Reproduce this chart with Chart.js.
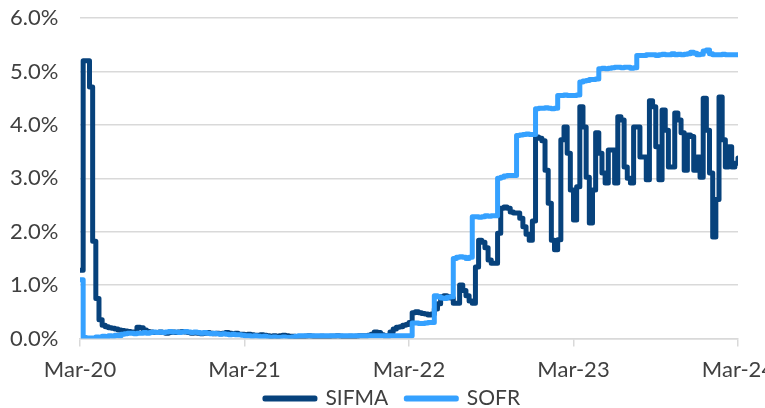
<!DOCTYPE html>
<html>
<head>
<meta charset="utf-8">
<script src="https://cdn.jsdelivr.net/npm/chart.js@4.4.1/dist/chart.umd.min.js"></script>
<style>
  html, body { margin: 0; padding: 0; background: #fff; overflow: hidden; }
  body { width: 765px; height: 408px; }
  #wrap { width: 775px; height: 432px; position: relative; }
</style>
</head>
<body>
<div id="wrap"><canvas id="rates"></canvas></div>
<script>
// weekly readings, first week of Mar-20 through first week of Mar-24 (in %)
const sifma = [
  1.28, 5.20, 5.20, 4.71, 1.82, 0.75, 0.35, 0.25, 0.22, 0.20,
  0.19, 0.18, 0.16, 0.15, 0.14, 0.13, 0.12, 0.12, 0.21, 0.20,
  0.16, 0.13, 0.12, 0.11, 0.11, 0.12, 0.11, 0.10, 0.11, 0.12,
  0.11, 0.12, 0.13, 0.12, 0.11, 0.10, 0.11, 0.10, 0.09, 0.10,
  0.11, 0.10, 0.09, 0.10, 0.09, 0.10, 0.11, 0.10, 0.09, 0.10,
  0.08, 0.08, 0.07, 0.08, 0.07, 0.06, 0.06, 0.07, 0.06, 0.05,
  0.04, 0.05, 0.04, 0.05, 0.06, 0.05, 0.04, 0.04, 0.03, 0.03,
  0.03, 0.04, 0.05, 0.04, 0.03, 0.03, 0.04, 0.03, 0.03, 0.04,
  0.04, 0.05, 0.04, 0.03, 0.03, 0.04, 0.03, 0.04, 0.05, 0.05,
  0.05, 0.06, 0.08, 0.12, 0.11, 0.07, 0.05, 0.05, 0.12, 0.18,
  0.21, 0.22, 0.25, 0.26, 0.30, 0.48, 0.50, 0.48, 0.47, 0.46,
  0.44, 0.46, 0.55, 0.65, 0.78, 0.80, 0.78, 0.76, 0.66, 0.66,
  1.00, 0.90, 0.80, 0.70, 0.66, 1.34, 1.84, 1.80, 1.70, 1.47,
  1.41, 1.41, 1.97, 2.44, 2.46, 2.44, 2.37, 2.35, 2.35, 2.25,
  2.09, 1.95, 1.84, 2.20, 3.77, 3.75, 3.70, 3.15, 2.53, 1.84,
  1.66, 1.85, 3.72, 3.96, 3.47, 2.78, 2.22, 2.84, 4.34, 3.96,
  3.02, 2.16, 2.78, 3.85, 3.47, 3.10, 2.91, 3.53, 3.53, 2.91,
  4.15, 4.09, 3.21, 3.00, 2.91, 3.96, 3.96, 3.40, 3.40, 2.97,
  4.45, 4.34, 3.59, 2.97, 4.28, 3.90, 3.21, 3.21, 4.22, 4.09,
  3.85, 3.15, 3.81, 3.78, 3.15, 3.40, 3.02, 4.50, 3.90, 3.10,
  1.90, 2.60, 4.52, 3.72, 3.21, 3.59, 3.21, 3.28, 3.38
];

const sofr = [
  1.10, 0.02, 0.01, 0.01, 0.01, 0.03, 0.02, 0.04, 0.03, 0.05,
  0.04, 0.06, 0.05, 0.08, 0.09, 0.10, 0.10, 0.09, 0.10, 0.10,
  0.11, 0.10, 0.11, 0.12, 0.11, 0.12, 0.11, 0.12, 0.13, 0.12,
  0.12, 0.11, 0.12, 0.13, 0.12, 0.11, 0.12, 0.11, 0.10, 0.11,
  0.10, 0.09, 0.10, 0.09, 0.08, 0.09, 0.08, 0.07, 0.08, 0.07,
  0.07, 0.06, 0.05, 0.05, 0.04, 0.05, 0.04, 0.03, 0.04, 0.03,
  0.02, 0.03, 0.02, 0.02, 0.03, 0.02, 0.02, 0.03, 0.04, 0.05,
  0.05, 0.05, 0.05, 0.05, 0.05, 0.05, 0.05, 0.05, 0.05, 0.05,
  0.05, 0.05, 0.05, 0.05, 0.05, 0.05, 0.05, 0.05, 0.05, 0.05,
  0.05, 0.05, 0.05, 0.05, 0.05, 0.05, 0.05, 0.05, 0.05, 0.05,
  0.05, 0.05, 0.05, 0.05, 0.05, 0.29, 0.29, 0.28, 0.28, 0.29,
  0.30, 0.30, 0.80, 0.78, 0.76, 0.75, 0.77, 0.78, 1.50, 1.52,
  1.53, 1.52, 1.50, 1.52, 2.28, 2.28, 2.27, 2.28, 2.30, 2.29,
  2.30, 2.30, 3.00, 3.02, 3.04, 3.05, 3.05, 3.05, 3.80, 3.81,
  3.82, 3.83, 3.82, 3.82, 4.30, 4.31, 4.31, 4.32, 4.31, 4.30,
  4.31, 4.55, 4.55, 4.56, 4.55, 4.55, 4.55, 4.56, 4.80, 4.82,
  4.83, 4.85, 4.85, 4.86, 5.05, 5.06, 5.05, 5.06, 5.07, 5.08,
  5.08, 5.07, 5.08, 5.08, 5.06, 5.07, 5.30, 5.30, 5.30, 5.31,
  5.31, 5.31, 5.30, 5.31, 5.32, 5.31, 5.31, 5.33, 5.31, 5.32,
  5.31, 5.32, 5.33, 5.36, 5.34, 5.31, 5.32, 5.38, 5.40, 5.33,
  5.31, 5.31, 5.31, 5.32, 5.31, 5.31, 5.31, 5.31, 5.31
];

const yearLabels = ["Mar-20", "Mar-21", "Mar-22", "Mar-23", "Mar-24"];
const weeks = sifma.map((v, i) => i);

const textColor = "#404040";
const gridColor = "#d9d9d9";

Chart.defaults.font.family = "Lato, 'Liberation Sans', sans-serif";
Chart.defaults.font.size = 21;
Chart.defaults.color = textColor;

// pull the legend up so it sits closer to the axis labels
const legendLift = {
    id: "legendLift",
    afterLayout(chart) {
        chart.legend.top -= 13;
        chart.legend.bottom -= 13;
    }
};

const ctx = document.getElementById("rates").getContext("2d");
new Chart(ctx, {
    type: "line",
    data: {
        labels: weeks,
        datasets: [{
            label: "SIFMA",
            data: sifma,
            borderColor: "#07427c",
            backgroundColor: "#07427c",
            borderWidth: 5,
            borderJoinStyle: "round",
            borderCapStyle: "round",
            stepped: true,
            pointRadius: 0,
            order: 1
        }, {
            label: "SOFR",
            data: sofr,
            borderColor: "#35a1ff",
            backgroundColor: "#35a1ff",
            borderWidth: 5,
            borderJoinStyle: "round",
            borderCapStyle: "round",
            stepped: true,
            pointRadius: 0,
            order: 0
        }]
    },
    plugins: [legendLift],
    options: {
        responsive: true,
        maintainAspectRatio: false,
        animation: false,
        layout: { padding: { top: 18, left: 10, right: 0, bottom: 0 } },
        plugins: {
            tooltip: { enabled: false },
            legend: {
                position: "bottom",
                labels: {
                    boxWidth: 50,
                    boxHeight: 1,
                    padding: 18,
                    color: textColor,
                    sort: (a, b) => a.datasetIndex - b.datasetIndex
                }
            }
        },
        scales: {
            x: {
                type: "linear",
                min: 0,
                max: 208,
                afterFit: (scale) => {
                    scale.height = 44.5;
                    scale.paddingRight = 37;
                },
                ticks: {
                    stepSize: 52,
                    padding: 10,
                    maxRotation: 0,
                    font: { size: 22 },
                    callback: (v) => yearLabels[v / 52] || ""
                },
                grid: {
                    drawOnChartArea: false,
                    drawTicks: true,
                    tickLength: 8,
                    color: gridColor,
                    lineWidth: 1.5
                },
                border: { display: true, color: gridColor, width: 1.5 }
            },
            y: {
                min: 0,
                max: 6,
                afterFit: (scale) => { scale.width = 70; },
                ticks: {
                    stepSize: 1,
                    padding: 0,
                    crossAlign: "far",
                    font: { size: 22 },
                    callback: (v) => v.toFixed(1) + "%"
                },
                grid: {
                    drawTicks: false,
                    color: gridColor,
                    lineWidth: 1.5
                },
                border: { display: false }
            }
        }
    }
});
</script>
</body>
</html>
